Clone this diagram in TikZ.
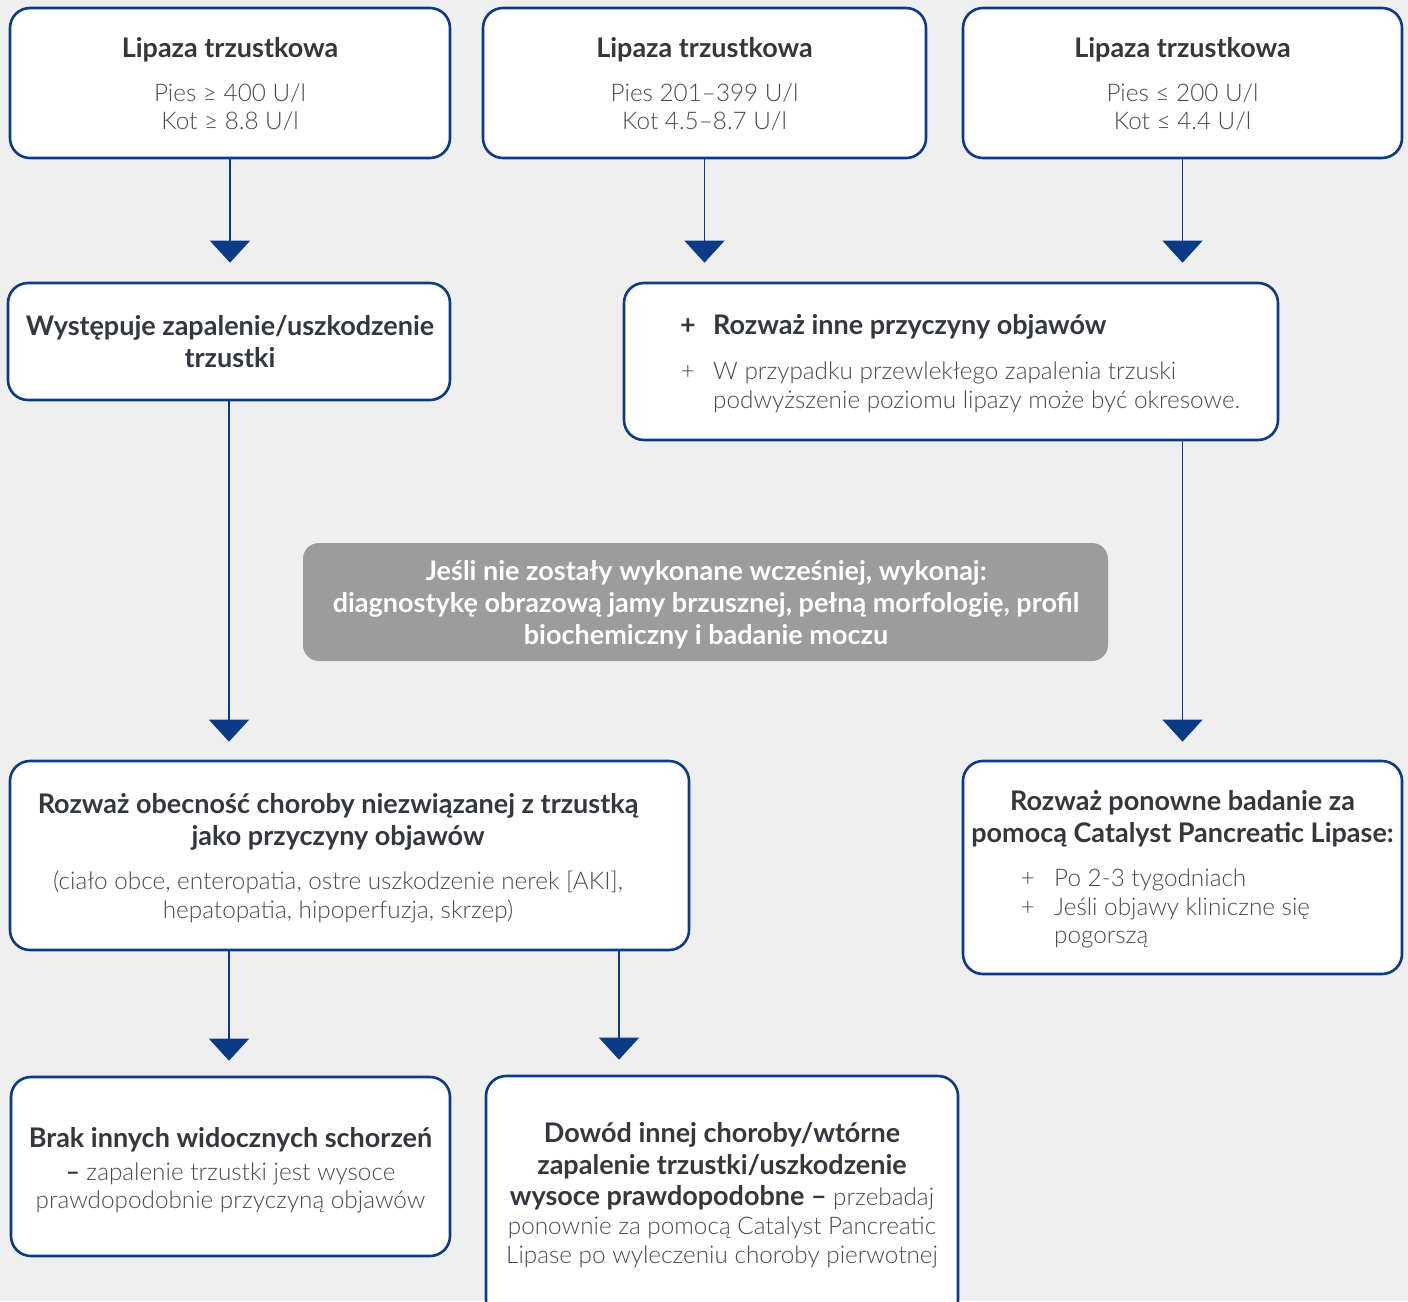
\documentclass[tikz,border=0pt]{standalone}
\usepackage{fontspec}
\setmainfont{Lato}
\newfontfamily\lightfont{Lato Light}
\usetikzlibrary{arrows.meta,calc}
\definecolor{bg}{HTML}{EFEFEF}
\definecolor{navy}{HTML}{0B3A86}
\definecolor{head}{HTML}{33373E}
\definecolor{bodytxt}{HTML}{4A4A4A}
\definecolor{graybox}{HTML}{9C9C9C}
\begin{document}
\begin{tikzpicture}[x=1pt,y=-1pt,
  box/.style={draw=navy, line width=2.6pt, fill=white, rounded corners=20pt, inner sep=0pt},
  gbox/.style={fill=graybox, rounded corners=16pt, inner sep=0pt},
  conn/.style={draw=navy, line width=1.2pt, -{Triangle[width=40pt,length=22pt]}},
  hd/.style={font=\fontsize{27}{32}\selectfont\bfseries, text=head, inner sep=0pt, anchor=base},
  bd/.style={font=\lightfont\fontsize{24.3}{29}\selectfont, text=bodytxt, inner sep=0pt, anchor=base},
  wh/.style={font=\fontsize{27}{32}\selectfont\bfseries, text=white, inner sep=0pt, anchor=base},
]
\fill[bg] (0,0) rectangle (1408,1301);
\useasboundingbox (0,0) rectangle (1408,1301);

% boxes
\node[box, minimum width=440pt, minimum height=150pt] (b1) at (230,83) {};
\node[box, minimum width=443pt, minimum height=150pt] (b2) at (704.5,83) {};
\node[box, minimum width=439pt, minimum height=150pt] (b3) at (1182.5,83) {};
\node[box, minimum width=442pt, minimum height=117pt] (b4) at (229,341.5) {};
\node[box, minimum width=654pt, minimum height=157pt] (b5) at (951,361.5) {};
\node[gbox, minimum width=805pt, minimum height=118pt] (g) at (705.5,602) {};
\node[box, minimum width=679pt, minimum height=189pt] (b6) at (349.5,855.5) {};
\node[box, minimum width=439pt, minimum height=213pt] (b7) at (1182.5,867.5) {};
\node[box, minimum width=439pt, minimum height=179pt] (b8) at (230.5,1166.5) {};
\node[box, minimum width=472pt, minimum height=244pt] (b9) at (722,1198) {};

% texts box 1-3
\node[hd] (t1a) at (230,57) {Lipaza trzustkowa};
\node[bd] (t1b) at (230,101) {Pies ≥ 400 U/l};
\node[bd] (t1c) at (230,129) {Kot ≥ 8.8 U/l};
\node[hd] (t2a) at (704.5,57) {Lipaza trzustkowa};
\node[bd] (t2b) at (704.5,101) {Pies 201–399 U/l};
\node[bd] (t2c) at (704.5,129) {Kot 4.5–8.7 U/l};
\node[hd] (t3a) at (1182.5,57) {Lipaza trzustkowa};
\node[bd] (t3b) at (1182.5,101) {Pies ≤ 200 U/l};
\node[bd] (t3c) at (1182.5,129) {Kot ≤ 4.4 U/l};

% box 4
\node[hd] (t4a) at (230,335) {Występuje zapalenie/uszkodzenie};
\node[hd] (t4b) at (230,367) {trzustki};

% box 5
\node[hd, anchor=base] (t5p) at (688,334) {+};
\node[hd, anchor=base west] (t5a) at (713,334) {Rozważ inne przyczyny objawów};
\node[bd, anchor=base] (t5q) at (688,379) {+};
\node[bd, anchor=base west] (t5b) at (713,379) {W przypadku przewlekłego zapalenia trzuski};
\node[bd, anchor=base west] (t5c) at (713,408) {podwyższenie poziomu lipazy może być okresowe.};

% gray box
\node[wh] (tga) at (706,580) {Jeśli nie zostały wykonane wcześniej, wykonaj:};
\node[wh] (tgb) at (706,612) {diagnostykę obrazową jamy brzusznej, pełną morfologię, profil};
\node[wh] (tgc) at (706,644) {biochemiczny i badanie moczu};

% box 6
\node[hd] (t6a) at (338,813) {Rozważ obecność choroby niezwiązanej z trzustką};
\node[hd] (t6b) at (338,845) {jako przyczyny objawów};
\node[bd] (t6c) at (338,889) {(ciało obce, enteropatia, ostre uszkodzenie nerek [AKI],};
\node[bd] (t6d) at (338,918) {hepatopatia, hipoperfuzja, skrzep)};

% box 7
\node[hd] (t7a) at (1182.5,810) {Rozważ ponowne badanie za};
\node[hd] (t7b) at (1182.5,842) {pomocą Catalyst Pancreatic Lipase:};
\node[bd, anchor=base] (t7p) at (1028,886) {+};
\node[bd, anchor=base west] (t7c) at (1054,886) {Po 2-3 tygodniach};
\node[bd, anchor=base] (t7q) at (1028,915) {+};
\node[bd, anchor=base west] (t7d) at (1054,915) {Jeśli objawy kliniczne się};
\node[bd, anchor=base west] (t7e) at (1054,943) {pogorszą};

% box 8
\node[hd] (t8a) at (230.5,1147) {Brak innych widocznych schorzeń};
\node[bd] (t8b) at (230.5,1180) {{\normalfont\bfseries\color{head}–} zapalenie trzustki jest wysoce};
\node[bd] (t8c) at (230.5,1208) {prawdopodobnie przyczyną objawów};

% box 9
\node[hd] (t9a) at (722,1142) {Dowód innej choroby/wtórne};
\node[hd] (t9b) at (722,1174) {zapalenie trzustki/uszkodzenie};
\node[hd] (t9c) at (722,1205) {wysoce prawdopodobne –{\lightfont\mdseries\color{bodytxt}\fontsize{24.3}{29}\selectfont{} przebadaj}};
\node[bd] (t9d) at (722,1234) {ponownie za pomocą Catalyst Pancreatic};
\node[bd] (t9e) at (722,1263) {Lipase po wyleczeniu choroby pierwotnej};

% connectors
\coordinate (c9) at (619,1000);
\draw[conn] (b1.south) -- ([yshift=19pt]b1.south |- b4.north);
\draw[conn] (b2.south) -- ([yshift=19pt]b2.south |- b5.north);
\draw[conn] (b3.south) -- ([yshift=19pt]b3.south |- b5.north);
\draw[conn] (b4.south) -- ([yshift=18pt]b4.south |- b6.north);
\draw[conn] (b3.south |- b5.south) -- ([yshift=18pt]b3.south |- b7.north);
\draw[conn] (b4.south |- b6.south) -- ([yshift=15pt]b4.south |- b8.north);
\draw[conn] (c9 |- b6.south) -- ([yshift=15pt]c9 |- b9.north);
\end{tikzpicture}
\end{document}
